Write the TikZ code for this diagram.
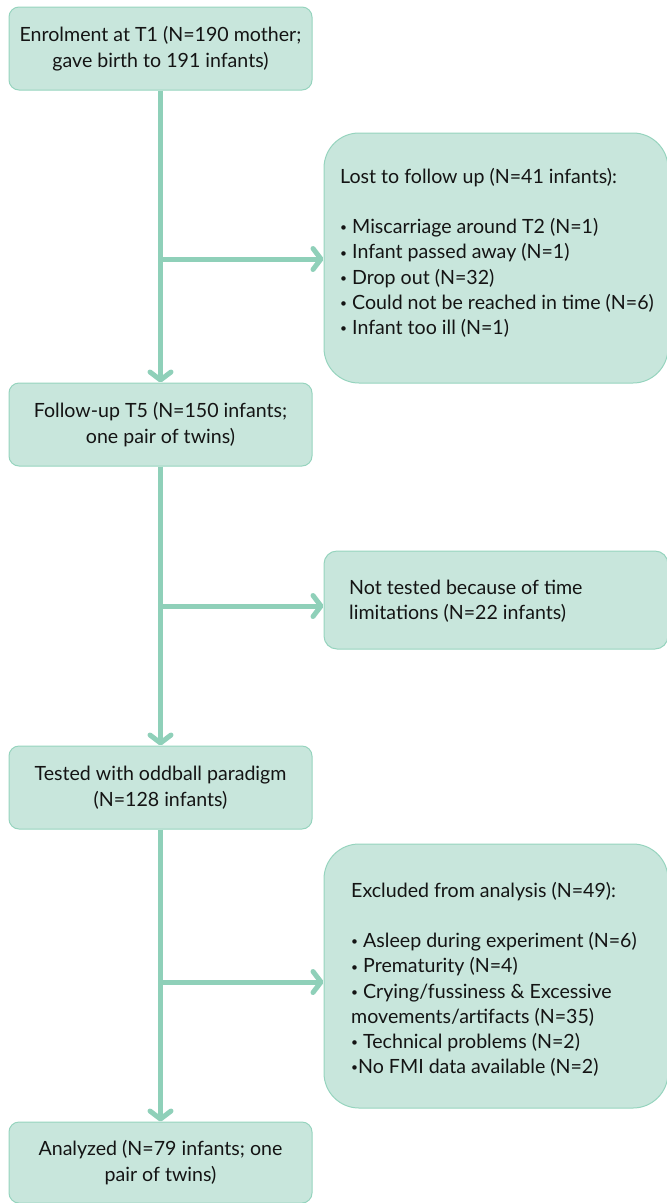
\documentclass[tikz,border=0pt]{standalone}
\usepackage{fontspec}
\setmainfont{Lato}
\usetikzlibrary{arrows.meta}
\definecolor{boxfill}{RGB}{200,230,220}
\definecolor{boxline}{RGB}{150,212,190}
\definecolor{arrowc}{RGB}{143,208,185}
\definecolor{txt}{RGB}{20,20,20}
\newcommand\bul{\raisebox{0.18ex}{\fontsize{12}{12}\selectfont •}}
\begin{document}
\begin{tikzpicture}[x=1pt,y=-1pt,
  mainbox/.style={draw=boxline, fill=boxfill, line width=1pt, rounded corners=10pt,
    minimum width=303pt, minimum height=83pt, align=center, inner sep=0pt,
    font=\fontsize{19.6}{26}\selectfont, text=txt},
  sidebox/.style={draw=boxline, fill=boxfill, line width=1pt, inner sep=0pt, minimum width=344pt},
  sidetext/.style={anchor=north west, align=left, inner sep=0pt,
    font=\fontsize{19.6}{25.2}\selectfont, text=txt},
  flow/.style={draw=arrowc, line width=5pt},
  flowarrow/.style={flow, -{Straight Barb[length=8pt,width=21pt,round]}}
]
\useasboundingbox (0,0) rectangle (667,1203);
% main boxes
\node[mainbox] (b1) at (160.5,48.5) {Enrolment at T1 (N=190 mother;\\gave birth to 191 infants)};
\node[mainbox] (b2) at (160.5,424.5) {Follow-up T5 (N=150 infants;\\one pair of twins)};
\node[mainbox] (b3) at (160.5,787.5) {Tested with oddball paradigm\\(N=128 infants)};
\node[mainbox, minimum height=81pt] (b4) at (160.5,1162.5) {Analyzed (N=79 infants; one\\pair of twins)};
% side boxes
\node[sidebox, rounded corners=35pt, minimum height=250pt] (lost) at (496,258) {};
\node[sidetext] (losttext) at (340,168) {Lost to follow up (N=41 infants):\\[25pt]
\bul\ Miscarriage around T2 (N=1)\\
\bul\ Infant passed away (N=1)\\
\bul\ Drop out (N=32)\\
\bul\ Could not be reached in time (N=6)\\
\bul\ Infant too ill (N=1)};
\node[sidebox, rounded corners=13pt, minimum height=98pt] (nt) at (496,600) {};
\node[sidetext] (nttext) at (349,580) {Not tested because of time\\limitations (N=22 infants)};
\node[sidebox, rounded corners=35pt, minimum height=264pt] (ex) at (496,976) {};
\node[sidetext] (extext) at (351,882) {Excluded from analysis (N=49):\\[25pt]
\bul\ Asleep during experiment (N=6)\\
\bul\ Prematurity (N=4)\\
\bul\ Crying/fussiness \& Excessive\\
movements/artifacts (N=35)\\
\bul\ Technical problems (N=2)\\
\bul No FMI data available (N=2)};
% trunk
\draw[flowarrow] (b1.south) -- (b2.north);
\draw[flowarrow] (b2.south) -- (b3.north);
\draw[flowarrow] (b3.south) -- (b4.north);
\coordinate (j1) at (160.5,259);
\coordinate (j2) at (160.5,606);
\coordinate (j3) at (160.5,982);
\draw[flowarrow] (j1) -- (j1 -| lost.west);
\draw[flowarrow] (j2) -- (j2 -| nt.west);
\draw[flowarrow] (j3) -- (j3 -| ex.west);
\end{tikzpicture}
\end{document}
